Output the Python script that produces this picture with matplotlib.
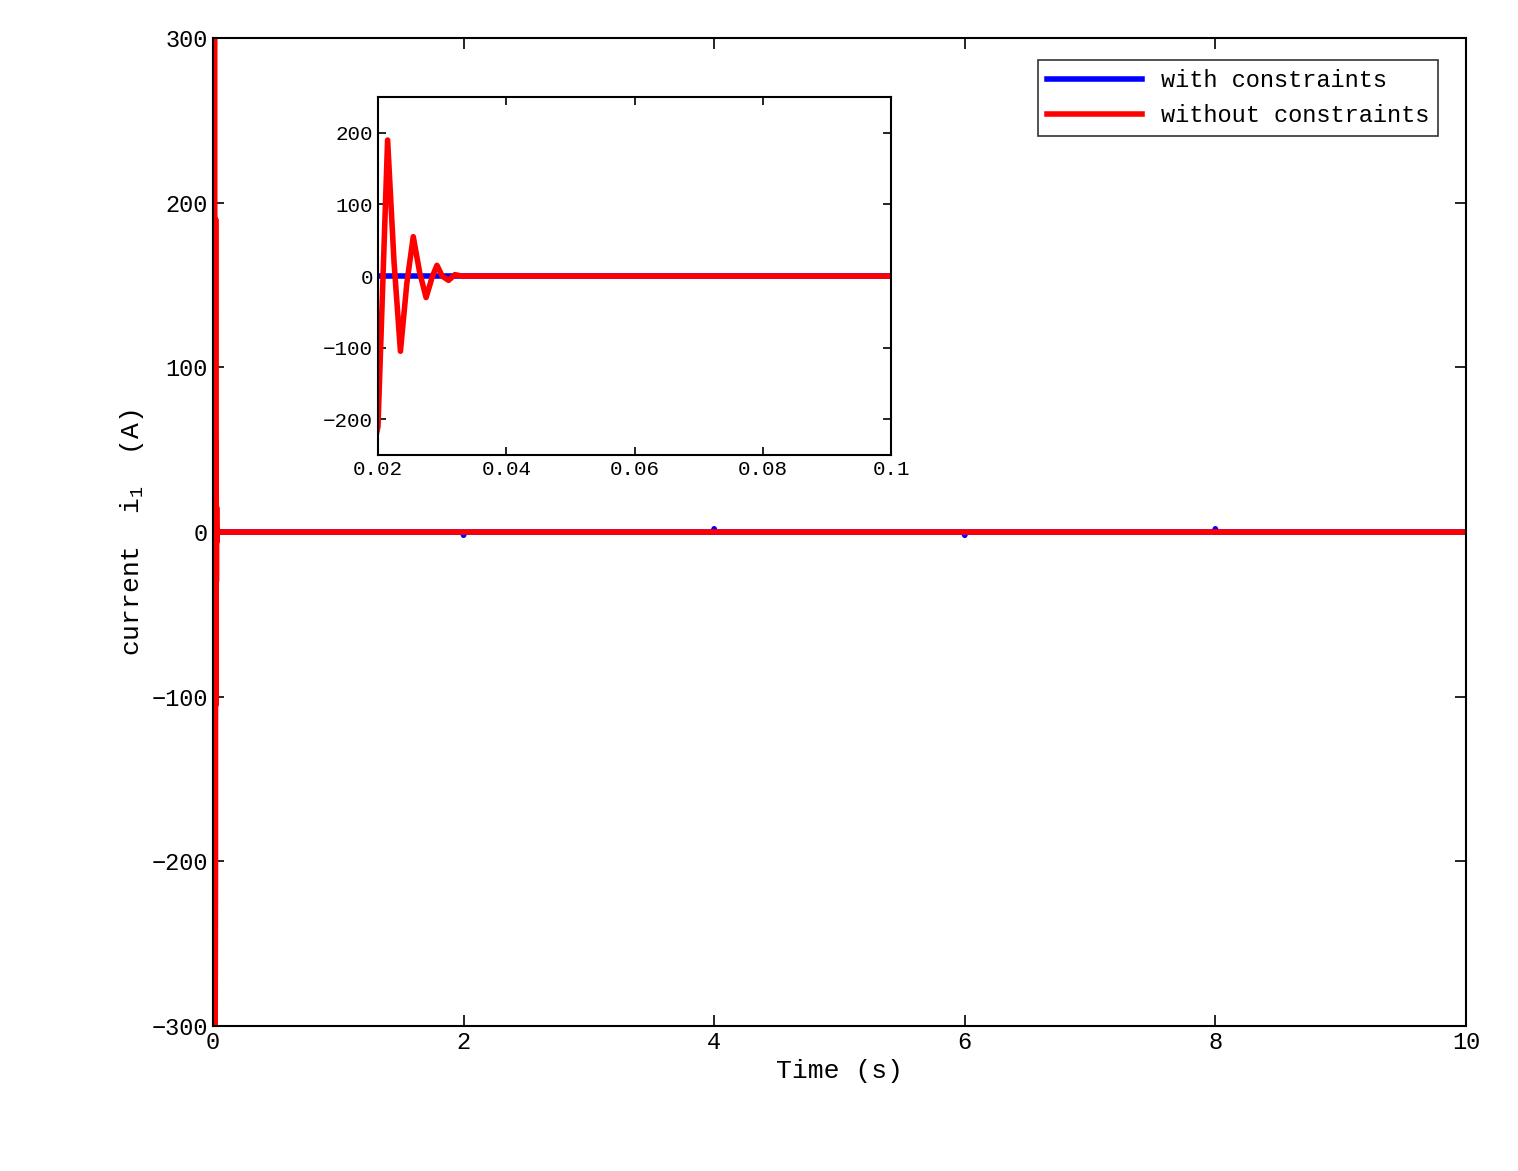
import matplotlib
matplotlib.use("Agg")
import matplotlib.pyplot as plt
import numpy as np

plt.rcParams['font.family'] = ['Liberation Mono', 'DejaVu Sans']
plt.rcParams['mathtext.fontset'] = 'custom'
plt.rcParams['mathtext.rm'] = 'Liberation Mono'
plt.rcParams['mathtext.it'] = 'Liberation Mono'

# red: without constraints (time s, current A)
red_t = [0.0, 0.004, 0.008, 0.012, 0.016, 0.0200, 0.0215, 0.0225, 0.0235, 0.0245, 0.0255,
         0.0265, 0.0275, 0.0285, 0.0292, 0.0300, 0.0310, 0.0320, 0.0330, 0.05, 0.1, 10.0]
red_i = [0.0, 450, -450, 400, -380, -210, 190, 20, -105, -10, 55,
         5, -30, 0, 15, 0, -6, 2, 0, 0, 0, 0]
# blue: with constraints
blue_t = [0.0, 0.02, 0.03, 1.99, 2.0, 2.01, 3.99, 4.0, 4.01, 5.99, 6.0, 6.01, 7.99, 8.0, 8.01, 10.0]
blue_i = [0.0, 0.0, 0.0, 0.0, -2, 0.0, 0.0, 2, 0.0, 0.0, -2, 0.0, 0.0, 2, 0.0, 0.0]

fig = plt.figure(figsize=(15.18, 11.71), dpi=100)
ax = fig.add_axes([0.1403, 0.1238, 0.8254, 0.8437])
ax.plot(blue_t, blue_i, color='blue', lw=4, label='with constraints')
ax.plot(red_t, red_i, color='red', lw=4, label='without constraints')
ax.set_xlim(0, 10)
ax.set_ylim(-300, 300)
ax.set_xticks([0, 2, 4, 6, 8, 10])
ax.set_yticks([-300, -200, -100, 0, 100, 200, 300])
ax.tick_params(direction='in', top=True, right=True, labelsize=17, length=8, width=1.2)
for s in ax.spines.values():
    s.set_linewidth(1.5)
ax.set_xlabel('Time (s)', fontsize=19)
ax.set_ylabel('current  i$_1$  (A)', fontsize=19)
leg = ax.legend(loc='upper right', fontsize=17, fancybox=False, edgecolor='black',
                handlelength=4, bbox_to_anchor=(0.978, 0.978), borderaxespad=0)
leg.get_frame().set_linewidth(1.2)

ins = fig.add_axes([0.249, 0.6114, 0.338, 0.3057])
ins.plot(blue_t, blue_i, color='blue', lw=4)
ins.plot(red_t, red_i, color='red', lw=4)
ins.set_xlim(0.02, 0.1)
ins.set_ylim(-250, 250)
ins.set_xticks([0.02, 0.04, 0.06, 0.08, 0.1])
ins.set_xticklabels(['0.02', '0.04', '0.06', '0.08', '0.1'])
ins.set_yticks([-200, -100, 0, 100, 200])
ins.tick_params(direction='in', top=True, right=True, labelsize=15, length=6, width=1.2)
for s in ins.spines.values():
    s.set_linewidth(1.5)

fig.savefig('out.png', dpi=100)
